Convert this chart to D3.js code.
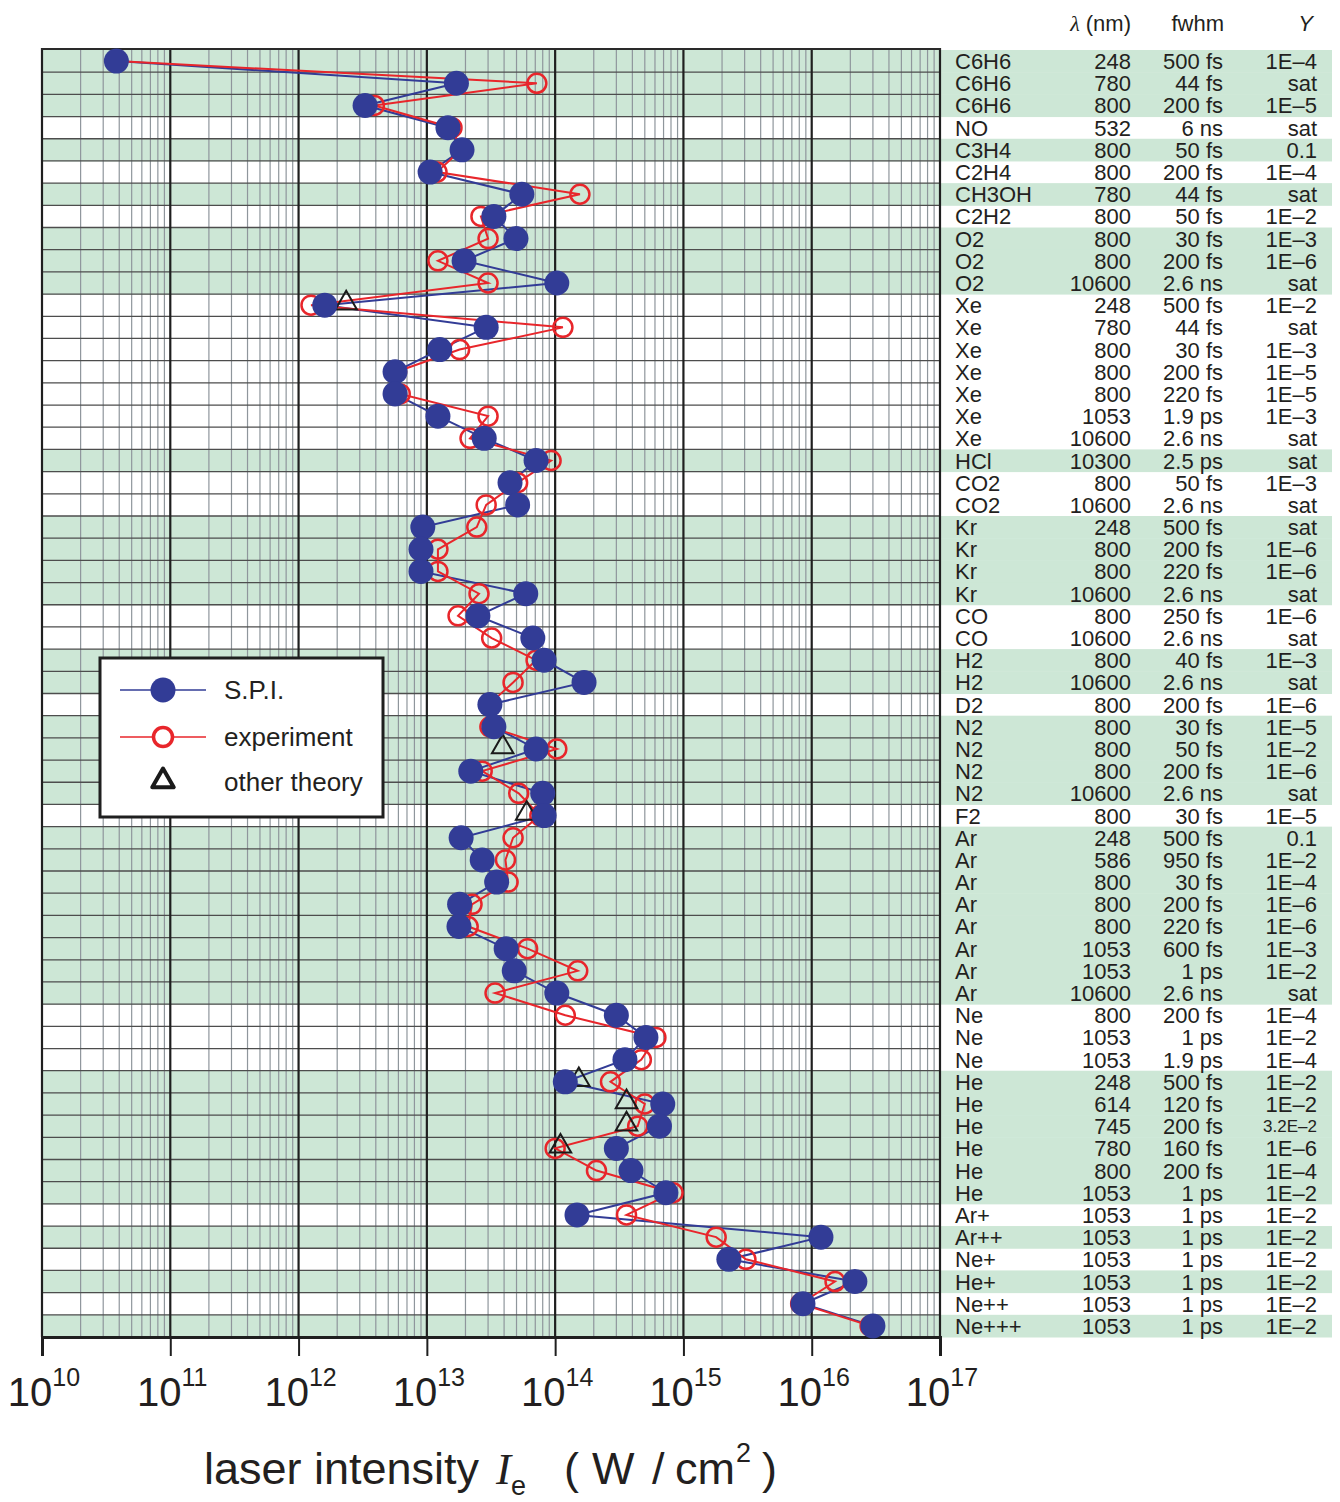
<!DOCTYPE html>
<html>
<head>
<meta charset="utf-8">
<script src="https://cdn.jsdelivr.net/npm/d3@7"></script>
<style>
  body { margin: 0; background: #fff; }
  text { font-family: "Liberation Sans", Arial, Helvetica, sans-serif; fill: #231f20; }
</style>
</head>
<body>
<svg id="chart" width="1340" height="1502"></svg>
<script>
// ---- data -------------------------------------------------------------
const species = ["C6H6","C6H6","C6H6","NO","C3H4","C2H4","CH3OH","C2H2","O2","O2","O2",
  "Xe","Xe","Xe","Xe","Xe","Xe","Xe","HCl","CO2","CO2","Kr","Kr","Kr","Kr","CO","CO",
  "H2","H2","D2","N2","N2","N2","N2","F2","Ar","Ar","Ar","Ar","Ar","Ar","Ar","Ar",
  "Ne","Ne","Ne","He","He","He","He","He","He","Ar+","Ar++","Ne+","He+","Ne++","Ne+++"];
const wavelength = ["248","780","800","532","800","800","780","800","800","800","10600",
  "248","780","800","800","800","1053","10600","10300","800","10600","248","800","800","10600","800","10600",
  "800","10600","800","800","800","800","10600","800","248","586","800","800","800","1053","1053","10600",
  "800","1053","1053","248","614","745","780","800","1053","1053","1053","1053","1053","1053","1053"];
const fwhm = ["500 fs","44 fs","200 fs","6 ns","50 fs","200 fs","44 fs","50 fs","30 fs","200 fs","2.6 ns",
  "500 fs","44 fs","30 fs","200 fs","220 fs","1.9 ps","2.6 ns","2.5 ps","50 fs","2.6 ns","500 fs","200 fs","220 fs","2.6 ns","250 fs","2.6 ns",
  "40 fs","2.6 ns","200 fs","30 fs","50 fs","200 fs","2.6 ns","30 fs","500 fs","950 fs","30 fs","200 fs","220 fs","600 fs","1 ps","2.6 ns",
  "200 fs","1 ps","1.9 ps","500 fs","120 fs","200 fs","160 fs","200 fs","1 ps","1 ps","1 ps","1 ps","1 ps","1 ps","1 ps"];
const yieldLabel = ["1E–4","sat","1E–5","sat","0.1","1E–4","sat","1E–2","1E–3","1E–6","sat",
  "1E–2","sat","1E–3","1E–5","1E–5","1E–3","sat","sat","1E–3","sat","sat","1E–6","1E–6","sat","1E–6","sat",
  "1E–3","sat","1E–6","1E–5","1E–2","1E–6","sat","1E–5","0.1","1E–2","1E–4","1E–6","1E–6","1E–3","1E–2","sat",
  "1E–4","1E–2","1E–4","1E–2","1E–2","3.2E–2","1E–6","1E–4","1E–2","1E–2","1E–2","1E–2","1E–2","1E–2","1E–2"];

// laser intensity (W/cm^2) per row
const spi = [3.8e10,1.7e13,3.3e12,1.46e13,1.88e13,1.06e13,5.5e13,3.33e13,4.95e13,1.95e13,1.03e14,
  1.6e12,2.9e13,1.26e13,5.65e12,5.65e12,1.22e13,2.8e13,7.1e13,4.45e13,5.1e13,9.3e12,9.0e12,9.0e12,5.9e13,2.5e13,6.7e13,
  8.2e13,1.68e14,3.1e13,3.33e13,7.1e13,2.2e13,8.0e13,8.2e13,1.85e13,2.7e13,3.5e13,1.8e13,1.78e13,4.15e13,4.8e13,1.03e14,
  3.0e14,5.1e14,3.5e14,1.2e14,6.9e14,6.5e14,3.0e14,3.9e14,7.3e14,1.48e14,1.18e16,2.26e15,2.17e16,8.55e15,3.0e16];
const experiment = [3.8e10,7.2e13,3.9e12,1.57e13,1.85e13,1.2e13,1.56e14,2.64e13,3.0e13,1.22e13,3.0e13,
  1.25e12,1.15e14,1.8e13,5.8e12,6.2e12,3.0e13,2.17e13,9.3e13,5.1e13,2.9e13,2.45e13,1.22e13,1.22e13,2.55e13,1.75e13,3.2e13,
  7.1e13,4.7e13,3.05e13,3.1e13,1.03e14,2.7e13,5.2e13,7.6e13,4.7e13,4.1e13,4.3e13,2.25e13,2.1e13,6.1e13,1.5e14,3.4e13,
  1.2e14,6.1e14,4.7e14,2.7e14,5.0e14,4.4e14,1.0e14,2.1e14,8.3e14,3.6e14,1.8e15,3.07e15,1.52e16,8.2e15,2.85e16];
// other theory: row index and intensity
const otherRows = [11, 31, 34, 46, 47, 48, 49];
const otherTheory = [2.35e12, 3.9e13, 6.0e13, 1.53e14, 3.6e14, 3.6e14, 1.1e14];

const decadeExponents = [10, 11, 12, 13, 14, 15, 16, 17];
const legendLabels = ["S.P.I.", "experiment", "other theory"];

// ---- layout -----------------------------------------------------------
const svg = d3.select("#chart");
const plotL = 42, plotR = 940, plotT = 50, plotB = 1337;
const tableRight = 1332;
const blue = "#323c96", red = "#e8262b", green = "#cde7d6";

const x = d3.scaleLog().domain([1e10, 1e17]).range([plotL, plotR]);
const rows = d3.range(species.length);
const y = d3.scaleBand().domain(rows).range([plotT, plotB]).padding(0);
const yc = i => y(i) + y.bandwidth() / 2;

// alternating shading per species group
let grp = 0;
const groupIdx = species.map((s, i) => { if (i > 0 && s !== species[i - 1]) grp++; return grp; });

svg.append("g").selectAll("rect")
  .data(rows.filter(i => groupIdx[i] % 2 === 0))
  .join("rect")
  .attr("x", plotL).attr("width", tableRight - plotL)
  .attr("y", i => y(i)).attr("height", y.bandwidth() + 0.5)
  .attr("fill", green);

// minor vertical grid
const minor = [];
decadeExponents.slice(0, -1).forEach(e => { for (let k = 2; k <= 9; k++) minor.push(k * Math.pow(10, e)); });
svg.append("g").selectAll("line").data(minor).join("line")
  .attr("x1", d => x(d)).attr("x2", d => x(d))
  .attr("y1", plotT - 2).attr("y2", plotB)
  .attr("stroke", "#8f969c").attr("stroke-width", 1.2);

// row separators
svg.append("g").selectAll("line").data(rows.slice(1)).join("line")
  .attr("x1", plotL).attr("x2", plotR)
  .attr("y1", i => y(i)).attr("y2", i => y(i))
  .attr("stroke", "#4d4d4d").attr("stroke-width", 1.3);

// decade lines
svg.append("g").selectAll("line").data(decadeExponents).join("line")
  .attr("x1", e => x(Math.pow(10, e))).attr("x2", e => x(Math.pow(10, e)))
  .attr("y1", plotT - 2).attr("y2", plotB)
  .attr("stroke", "#1f1f1f").attr("stroke-width", 2.2);

// frame top
svg.append("line").attr("x1", plotL - 1).attr("x2", plotR + 1).attr("y1", plotT - 1).attr("y2", plotT - 1)
  .attr("stroke", "#2a2a2a").attr("stroke-width", 2);

// bottom axis
const axis = d3.axisBottom(x)
  .tickValues(decadeExponents.map(e => Math.pow(10, e)))
  .tickSize(19).tickFormat("");
const ax = svg.append("g").attr("transform", `translate(0,${plotB})`).call(axis);
ax.select(".domain").attr("stroke", "#1f1f1f").attr("stroke-width", 3);
ax.selectAll(".tick line").attr("stroke", "#1f1f1f").attr("stroke-width", 2);

const tickLab = svg.append("g").selectAll("text").data(decadeExponents).join("text")
  .attr("x", e => x(Math.pow(10, e)) + 2).attr("y", 1406)
  .attr("text-anchor", "middle").style("font-size", "40px");
tickLab.append("tspan").text("10");
tickLab.append("tspan").attr("dy", -20).style("font-size", "25px").text(e => e);

// axis title
const title = svg.append("g").style("font-size", "45px");
const tY = 1484;
title.append("text").attr("x", 204).attr("y", tY).text("laser intensity");
title.append("text").attr("x", 496).attr("y", tY)
  .style("font-family", "'Liberation Serif', serif").style("font-style", "italic").text("I");
title.append("text").attr("x", 511).attr("y", tY + 11).style("font-size", "27px").text("e");
title.append("text").attr("x", 564).attr("y", tY).text("(");
title.append("text").attr("x", 592).attr("y", tY).text("W");
title.append("text").attr("x", 652).attr("y", tY).text("/");
title.append("text").attr("x", 675).attr("y", tY).text("cm");
title.append("text").attr("x", 736).attr("y", tY - 22).style("font-size", "27px").text("2");
title.append("text").attr("x", 762).attr("y", tY).text(")");

// ---- series -----------------------------------------------------------
const line = arr => d3.line().x(i => x(arr[i])).y(i => yc(i))(rows);

svg.append("path").attr("d", line(spi)).attr("fill", "none")
  .attr("stroke", blue).attr("stroke-width", 2);
svg.append("path").attr("d", line(experiment)).attr("fill", "none")
  .attr("stroke", red).attr("stroke-width", 2);

svg.append("g").selectAll("circle").data(rows).join("circle")
  .attr("cx", i => x(experiment[i])).attr("cy", i => yc(i)).attr("r", 9.5)
  .attr("fill", "none").attr("stroke", red).attr("stroke-width", 2.5);

const tri = d3.symbol().type(d3.symbolTriangle).size(200);
svg.append("g").selectAll("path").data(otherRows).join("path")
  .attr("transform", (r, k) => `translate(${x(otherTheory[k])},${yc(r) - 2})`)
  .attr("d", tri).attr("fill", "none").attr("stroke", "#1a1a1a").attr("stroke-width", 2);

svg.append("g").selectAll("circle").data(rows).join("circle")
  .attr("cx", i => x(spi[i])).attr("cy", i => yc(i)).attr("r", 12.5)
  .attr("fill", blue);

// ---- table ------------------------------------------------------------
const tbl = svg.append("g").style("font-size", "22px");
const rowText = (arr, xpos, anchor) => tbl.append("g").selectAll("text").data(rows).join("text")
  .attr("x", xpos).attr("y", i => yc(i) + 8).attr("text-anchor", anchor).text(i => arr[i]);
rowText(species, 955, "start");
rowText(wavelength, 1131, "end");
rowText(fwhm, 1223, "end");
rowText(yieldLabel, 1317, "end")
  .filter(i => yieldLabel[i].length > 5).style("font-size", "17px").attr("y", i => yc(i) + 6);

const hdr = svg.append("g").style("font-size", "22px");
const lam = hdr.append("text").attr("x", 1131).attr("y", 31).attr("text-anchor", "end");
lam.append("tspan").style("font-family", "'Liberation Serif', serif").style("font-style", "italic").text("λ");
lam.append("tspan").text(" (nm)");
hdr.append("text").attr("x", 1224).attr("y", 31).attr("text-anchor", "end").text("fwhm");
hdr.append("text").attr("x", 1313).attr("y", 31).attr("text-anchor", "end")
  .style("font-style", "italic").text("Y");

// ---- legend -----------------------------------------------------------
const lg = svg.append("g");
lg.append("rect").attr("x", 100).attr("y", 658).attr("width", 283).attr("height", 159)
  .attr("fill", "#fff").attr("stroke", "#1f1f1f").attr("stroke-width", 3);
const ly = [690, 737, 782];
lg.append("line").attr("x1", 120).attr("x2", 206).attr("y1", ly[0]).attr("y2", ly[0])
  .attr("stroke", blue).attr("stroke-width", 1.5);
lg.append("circle").attr("cx", 163).attr("cy", ly[0]).attr("r", 12.5).attr("fill", blue);
lg.append("line").attr("x1", 120).attr("x2", 206).attr("y1", ly[1]).attr("y2", ly[1])
  .attr("stroke", red).attr("stroke-width", 1.5);
lg.append("circle").attr("cx", 163).attr("cy", ly[1]).attr("r", 9.5)
  .attr("fill", "#fff").attr("stroke", red).attr("stroke-width", 3.5);
lg.append("path").attr("transform", `translate(163,${ly[2] - 1})`)
  .attr("d", d3.symbol().type(d3.symbolTriangle).size(200))
  .attr("fill", "none").attr("stroke", "#1a1a1a").attr("stroke-width", 4).attr("stroke-linejoin", "round");
lg.selectAll("text.lab").data(legendLabels).join("text")
  .attr("x", 224).attr("y", (d, i) => ly[i] + 9).style("font-size", "26px").text(d => d);
</script>
</body>
</html>
